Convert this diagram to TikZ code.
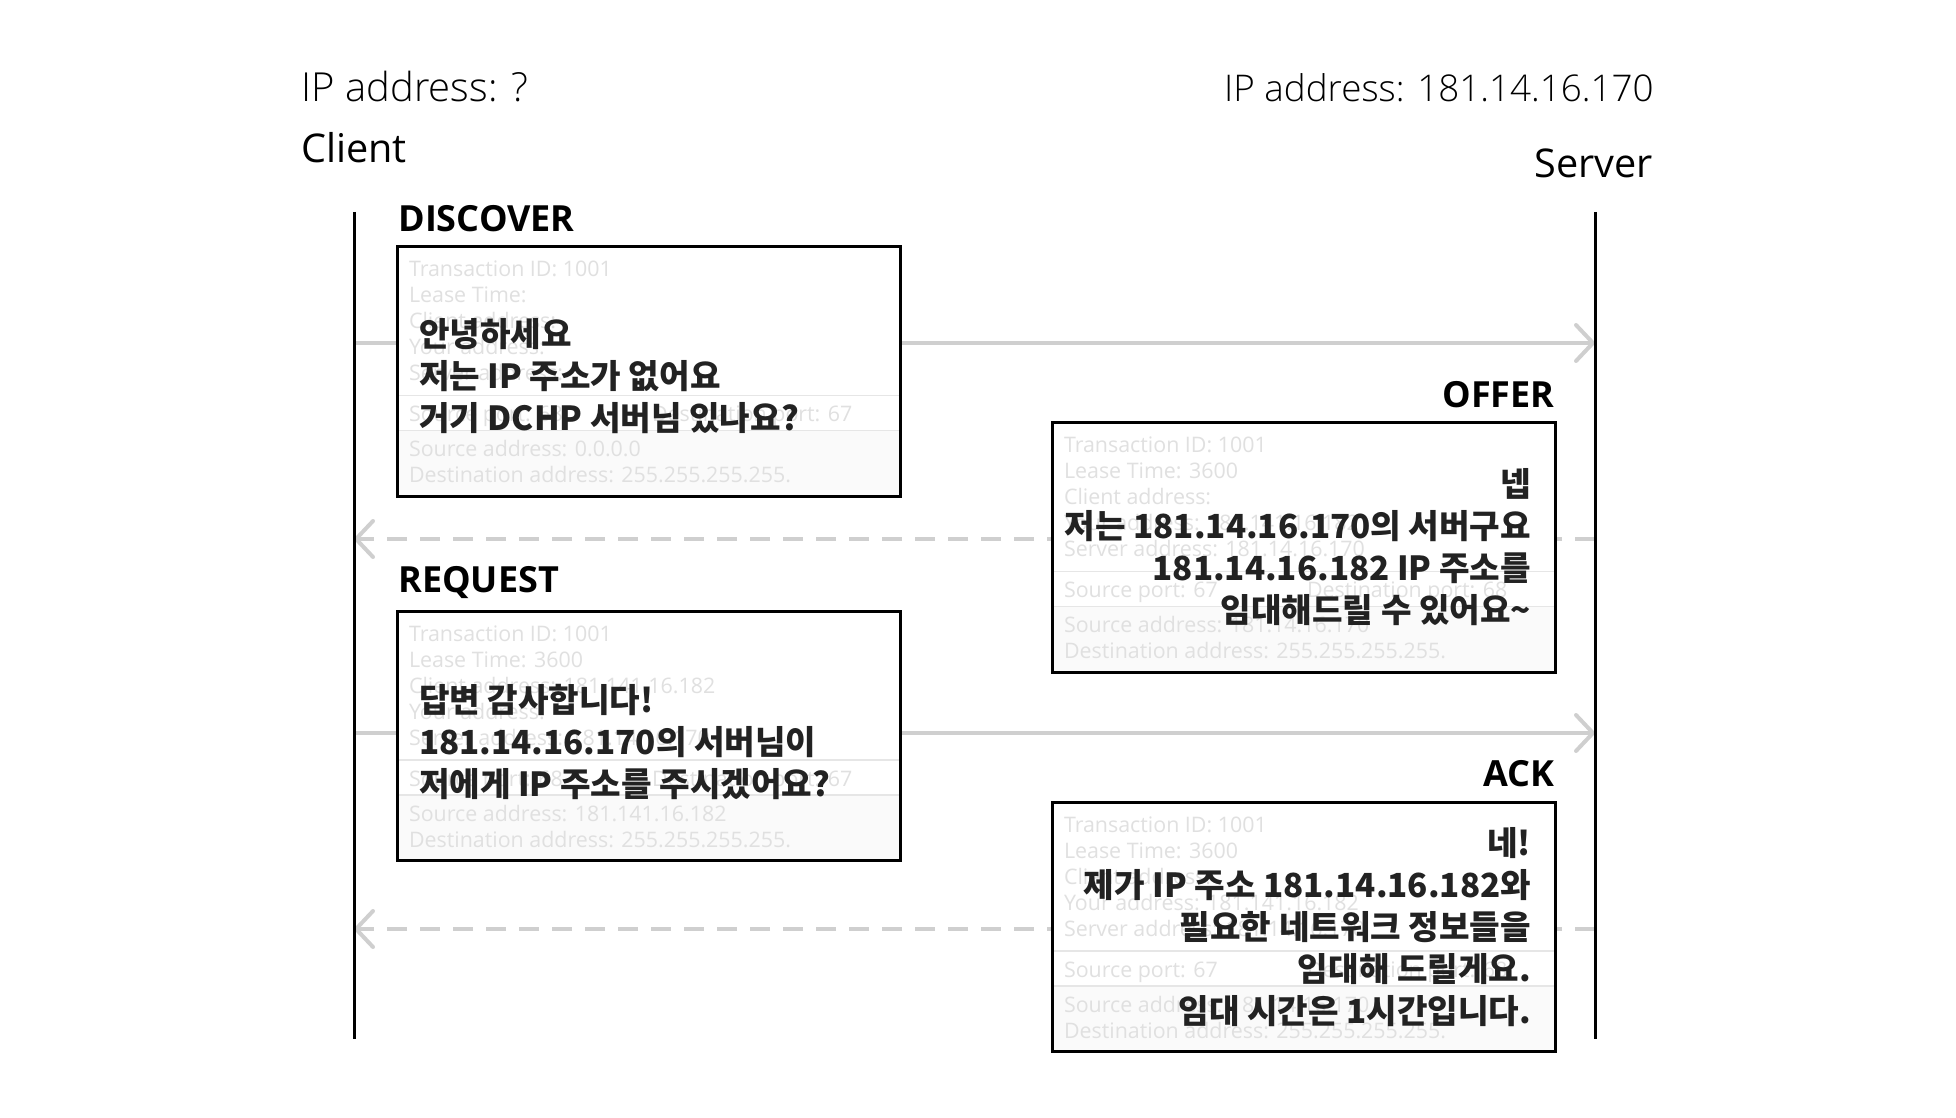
\documentclass[tikz,border=0pt]{standalone}
\usepackage{fontspec}
\usetikzlibrary{calc,arrows.meta}
\setmainfont{Open Sans}
\newfontfamily\lightfont{Open Sans Light}
\newfontfamily\kofont{Noto Sans CJK KR}
\definecolor{fadegray}{RGB}{224,224,224}
\definecolor{bandgray}{RGB}{250,250,250}
\definecolor{sepgray}{RGB}{230,230,230}
\definecolor{arrowgray}{RGB}{207,207,207}
\definecolor{inkblack}{RGB}{34,34,34}

% packet fields drawn faintly inside a message box
\newcommand{\packet}[9]{%
  \fill[bandgray] ($(#1.north west)+(0,184)$) rectangle (#1.south east);
  \draw[sepgray, line width=0.8pt] ($(#1.north west)+(0,149)$) -- ($(#1.north east)+(0,149)$);
  \draw[sepgray, line width=0.8pt] ($(#1.north west)+(0,184)$) -- ($(#1.north east)+(0,184)$);
  \node[field] (#1-tid) at ($(#1.north west)+(11,30)$) {Transaction ID: 1001};
  \node[field] (#1-lease) at ($(#1.north west)+(11,56)$) {Lease Time:#2};
  \node[field] (#1-ci) at ($(#1.north west)+(11,82)$) {Client address:#3};
  \node[field] (#1-yi) at ($(#1.north west)+(11,108)$) {Your address:#4};
  \node[field] (#1-si) at ($(#1.north west)+(11,134)$) {Server address:#5};
  \node[field] (#1-sport) at ($(#1.north west)+(11,175)$) {Source port: #6};
  \node[field] (#1-dport) at ($(#1.north west)+(254,175)$) {Destination port: #7};
  \node[field] (#1-sa) at ($(#1.north west)+(11,210)$) {Source address: #8};
  \node[field] (#1-da) at ($(#1.north west)+(11,236)$) {Destination address: #9};
}

\begin{document}
\begin{tikzpicture}[x=0.5pt, y=-0.5pt,
  lifeline/.style={line width=1.5pt, black},
  msgbox/.style={fill=white, minimum width=251pt, minimum height=124.5pt, inner sep=0pt},
  boxline/.style={draw=black, line width=1.5pt},
  field/.style={anchor=base west, inner sep=0pt, text=fadegray, font=\fontsize{10.7pt}{12pt}\selectfont},
  say/.style={inner sep=0pt, text=inkblack, font=\kofont\bfseries\fontsize{16.6pt}{21pt}\selectfont},
  tag/.style={inner sep=0pt, font=\bfseries\fontsize{18pt}{20pt}\selectfont},
  msg/.style={line width=2pt, arrowgray, -{Straight Barb[length=8.5pt,width=18pt,round]}},
  reply/.style={msg, dash pattern=on 10pt off 6.5pt}
]
\useasboundingbox (0,0) rectangle (1956,1118);

% Hosts
\node[anchor=base west, inner sep=0pt, font=\lightfont\fontsize{20pt}{22pt}\selectfont] (clientip) at (301,102) {IP address: ?};
\node[anchor=base west, inner sep=0pt, font=\fontsize{19.8pt}{22pt}\selectfont] (client) at (301,163) {Client};
\node[anchor=base east, inner sep=0pt, font=\lightfont\fontsize{18.4pt}{22pt}\selectfont] (serverip) at (1654,102) {IP address: 181.14.16.170};
\node[anchor=base east, inner sep=0pt, font=\fontsize{19.8pt}{22pt}\selectfont] (server) at (1653,178) {Server};

% Lifeline ends
\coordinate (clienttop) at (354,212);
\coordinate (clientbot) at (354,1039);
\coordinate (servertop) at (1595,212);
\coordinate (serverbot) at (1595,1039);

% Message end points
\coordinate (discover-c) at (354,343);
\coordinate (discover-s) at (1595,343);
\coordinate (offer-s) at (1595,539);
\coordinate (offer-c) at (354,539);
\coordinate (request-c) at (354,733);
\coordinate (request-s) at (1595,733);
\coordinate (ack-s) at (1595,929);
\coordinate (ack-c) at (354,929);

% Messages
\draw[msg] (discover-c) -- (discover-s);
\draw[reply] (offer-s) -- (offer-c);
\draw[msg] (request-c) -- (request-s);
\draw[reply] (ack-s) -- (ack-c);

% DISCOVER
\node[tag, anchor=base west] (discover-tag) at (398,232) {DISCOVER};
\node[msgbox] (discover) at (649,371.5) {};
\packet{discover}{}{}{}{}{68}{67}{0.0.0.0}{255.255.255.255.}
\draw[boxline] (discover.north west) rectangle (discover.south east);
\node[say, anchor=west, align=left] (discover-say) at ($(discover.west)+(21,5)$)
  {안녕하세요\\저는 IP 주소가 없어요\\거기 DCHP 서버님 있나요?};

% OFFER
\node[tag, anchor=base east] (offer-tag) at (1555,408) {OFFER};
\node[msgbox] (offer) at (1304,547.5) {};
\packet{offer}{ 3600}{}{ 181.141.16.182}{ 181.14.16.170}{67}{68}{181.14.16.170}{255.255.255.255.}
\draw[boxline] (offer.north west) rectangle (offer.south east);
\node[say, anchor=east, align=right] (offer-say) at ($(offer.east)+(-24,0)$)
  {넵\\저는 181.14.16.170의 서버구요\\181.14.16.182 IP 주소를\\임대해드릴 수 있어요\textasciitilde};

% REQUEST
\node[tag, anchor=base west] (request-tag) at (398,592) {REQUEST};
\node[msgbox] (request) at (649,736) {};
\packet{request}{ 3600}{ 181.141.16.182}{}{ 181.14.16.170}{68}{67}{181.141.16.182}{255.255.255.255.}
\draw[boxline] (request.north west) rectangle (request.south east);
\node[say, anchor=west, align=left] (request-say) at ($(request.west)+(21,6)$)
  {답변 감사합니다!\\181.14.16.170의 서버님이\\저에게 IP 주소를 주시겠어요?};

% ACK
\node[tag, anchor=base east] (ack-tag) at (1555,786) {ACK};
\node[msgbox] (ack) at (1304,927) {};
\packet{ack}{ 3600}{}{ 181.141.16.182}{ 181.14.16.170}{67}{68}{181.14.16.170}{255.255.255.255.}
\draw[boxline] (ack.north west) rectangle (ack.south east);
\node[say, anchor=east, align=right] (ack-say) at ($(ack.east)+(-24,0)$)
  {네!\\제가 IP 주소 181.14.16.182와\\필요한 네트워크 정보들을\\임대해 드릴게요.\\임대 시간은 1시간입니다.};

% Lifelines
\draw[lifeline] (clienttop) -- (clientbot);
\draw[lifeline] (servertop) -- (serverbot);
\end{tikzpicture}
\end{document}
